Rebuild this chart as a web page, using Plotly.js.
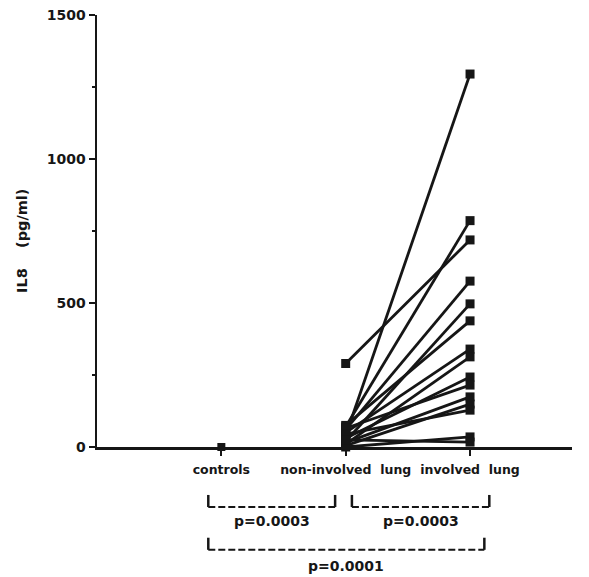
<!DOCTYPE html>
<html>
<head>
<meta charset="utf-8">
<script src="https://cdn.plot.ly/plotly-3.0.1.min.js"></script>
<style>html,body{margin:0;padding:0;background:#fff;}#chart{width:589px;height:577px;}</style>
</head>
<body>
<div id="chart"></div>
<script>
// Category labels and positions
const categories = ["controls", "non-involved  lung", "involved  lung"];
const categoryPos = [1, 2, 3];

// Controls value(s)
const controls = [0];

// Paired patients: non-involved lung vs involved lung IL8 (pg/ml)
const nonInvolved = [40, 290, 70, 60, 20, 75, 50, 10, 30, 65, 15, 5, 45, 0, 25];
const involved    = [1295, 719, 786, 576, 497, 438, 340, 313, 243, 215, 174, 149, 128, 35, 17];

// Significance annotations
const pLabels = ["p=0.0003", "p=0.0003", "p=0.0001"];
const yTitle = "IL8    (pg/ml)";

const ink = "#161616";
const fam = "DejaVu Sans, Liberation Sans, Arial, sans-serif";
const traces = [];
for (let i = 0; i < nonInvolved.length; i++) {
  traces.push({
    type: "scatter", mode: "lines+markers",
    x: [categoryPos[1], categoryPos[2]],
    y: [nonInvolved[i], involved[i]],
    line: {color: ink, width: 2.8},
    marker: {symbol: "square", size: 9, color: ink},
    hoverinfo: "skip", showlegend: false, cliponaxis: false
  });
}
traces.push({
  type: "scatter", mode: "markers",
  x: controls.map(() => categoryPos[0]), y: controls,
  marker: {symbol: "square", size: 8, color: ink},
  showlegend: false, cliponaxis: false
});

const shapes = [];
const annotations = [];
function bracket(x0, x1, yp, label, ty) {
  shapes.push({type: "line", xref: "x", yref: "paper", x0: x0, x1: x1, y0: yp, y1: yp,
    line: {color: ink, width: 2, dash: "7px,3px"}});
  shapes.push({type: "line", xref: "x", yref: "paper", x0: x0, x1: x0, y0: yp, y1: yp + 0.028,
    line: {color: ink, width: 2.5}});
  shapes.push({type: "line", xref: "x", yref: "paper", x0: x1, x1: x1, y0: yp, y1: yp + 0.028,
    line: {color: ink, width: 2.5}});
  annotations.push({xref: "x", yref: "paper", x: (x0 + x1) / 2, y: ty, yanchor: "middle",
    text: label, showarrow: false, font: {family: fam, size: 14, color: ink, weight: "bold"}});
}
bracket(0.895, 1.915, -0.139, pLabels[0], -0.171);
bracket(2.05, 3.155, -0.139, pLabels[1], -0.171);
bracket(0.895, 3.115, -0.238, pLabels[2], -0.276);

annotations.push({xref: "paper", yref: "paper", x: -0.158, y: 0.477, textangle: -90,
  xanchor: "center", yanchor: "middle", text: yTitle, showarrow: false,
  font: {family: fam, size: 14.5, color: ink, weight: "bold"}});

const layout = {
  width: 589, height: 577,
  margin: {l: 97, r: 17, t: 15, b: 130},
  paper_bgcolor: "#fff", plot_bgcolor: "#fff",
  showlegend: false,
  xaxis: {
    range: [0, 3.82], tickvals: categoryPos, ticktext: categories,
    showgrid: false, zeroline: false, showline: true, linecolor: ink, linewidth: 2.5,
    ticks: "outside", ticklen: 6, tickwidth: 2, tickcolor: ink, ticklabelstandoff: 3,
    tickfont: {family: fam, size: 12.5, color: ink, weight: "bold"}
  },
  yaxis: {
    range: [0, 1500], tickvals: [0, 500, 1000, 1500],
    showgrid: false, zeroline: false, showline: true, linecolor: ink, linewidth: 2.5,
    ticks: "outside", ticklen: 6, tickwidth: 2, tickcolor: ink,
    tickfont: {family: fam, size: 14, color: ink, weight: "bold"},
    minor: {tickvals: [250, 750, 1250], ticks: "outside", ticklen: 3, tickwidth: 2, tickcolor: ink}
  },
  shapes: shapes,
  annotations: annotations
};

Plotly.newPlot("chart", traces, layout, {displayModeBar: false, staticPlot: true});
</script>
</body>
</html>
